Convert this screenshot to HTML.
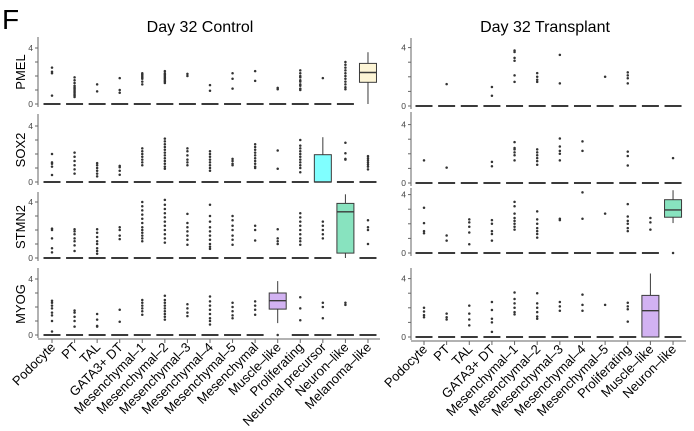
<!DOCTYPE html>
<html><head><meta charset="utf-8"><style>
html,body{margin:0;padding:0;background:#fff;}
svg{display:block;font-family:"Liberation Sans",Arial,sans-serif;}
</style></head><body>
<svg id="fig" width="694" height="431" viewBox="0 0 694 431">
<text x="2" y="29" font-size="28" fill="#000">F</text>
<text x="200" y="32" font-size="16" text-anchor="middle" fill="#000">Day 32 Control</text>
<text x="545" y="32" font-size="16" text-anchor="middle" fill="#000">Day 32 Transplant</text>
<text transform="translate(25,72) rotate(-90)" font-size="13" text-anchor="middle">PMEL</text>
<text transform="translate(25,150) rotate(-90)" font-size="13" text-anchor="middle">SOX2</text>
<text transform="translate(25,227) rotate(-90)" font-size="13" text-anchor="middle">STMN2</text>
<text transform="translate(25,304) rotate(-90)" font-size="13" text-anchor="middle">MYOG</text>
</svg>
<script>
const controlCats = ["Podocyte","PT","TAL","GATA3+ DT","Mesenchymal–1","Mesenchymal–2","Mesenchymal–3","Mesenchymal–4","Mesenchymal–5","Mesenchymal","Muscle–like","Proliferating","Neuronal precursor","Neuron–like","Melanoma–like"];
const transplantCats = ["Podocyte","PT","TAL","GATA3+ DT","Mesenchymal–1","Mesenchymal–2","Mesenchymal–3","Mesenchymal–4","Mesenchymal–5","Proliferating","Muscle–like","Neuron–like"];
const genes = ["PMEL","SOX2","STMN2","MYOG"];
const geneColors = ["#FDF5D6","#80FFFF","#88E3BF","#D2B2F2"];
const yTicks = [0,1,2,3,4];
const yTickLabels = ["0","","","","4"];

const controlPoints = [
 [[2.6,2.3,2.2,0.6],[1.9,1.7,1.5,1.3,1.2,1.1,1.0,0.9,0.8,0.7,0.6,0.5],[1.4,0.9],[1.85,1.0,0.8],[2.2,2.1,2.0,1.9,1.8,1.6,1.4],[2.35,2.2,2.1,2.0,1.9,1.8,1.7,1.6,1.5],[2.15,2.0],[1.35,0.95],[2.2,1.8,1.1],[2.35,1.65],[1.15,1.05],[2.4,2.2,2.0,1.9,1.7,1.6,1.4,1.3,1.1,1.0],[1.85],[3.0,2.8,2.6,2.4,2.2,2.0,1.8,1.6,1.4,1.2,1.05],[]],
 [[2.0,1.4,1.3,1.1,0.5],[2.1,1.8,1.5,1.2,0.9,0.6],[1.35,1.2,1.0,0.8,0.6,0.4],[1.15,1.05,0.8,0.52],[2.4,2.2,2.0,1.8,1.6,1.4,1.2],[3.1,2.9,2.7,2.5,2.3,2.1,1.9,1.7,1.5,1.3,1.1,0.95],[2.4,2.2,1.9,1.6,1.4,1.2],[2.2,2.0,1.8,1.6,1.4,1.2,1.0,0.8],[1.65,1.5,1.3,1.2],[2.7,2.5,2.3,2.1,1.9,1.7,1.5,1.3,1.1,1.0],[2.25,0.95],[3.0,2.6,2.4,2.2,2.0,1.8,1.6,1.4,1.2,1.0,0.7],[],[2.8,2.05,1.65,1.6],[1.85,1.7,1.55,1.4,1.25,1.1,0.9]],
 [[2.1,2.0,1.4,0.7,0.4],[2.05,1.9,1.7,1.4,1.2,0.9,0.5],[2.05,1.8,1.5,1.2,1.0,0.7,0.5,0.3],[2.2,2.0,1.6,1.35],[4.0,3.7,3.4,3.1,2.8,2.5,2.2,2.0,1.8,1.6,1.4,1.2],[4.15,3.8,3.5,3.2,2.9,2.6,2.3,2.0,1.7,1.4,1.1],[3.15,2.5,2.2,1.9,1.6,1.3,0.95],[3.8,3.0,2.6,2.2,1.9,1.6,1.3,1.0,0.8,0.65],[3.0,2.7,2.3,2.0,1.6,1.3,0.95],[2.3,2.0,1.25],[2.05,1.4,1.2,1.0],[3.2,2.9,2.6,2.3,2.0,1.7,1.4,1.2,0.95],[2.6,2.3,2.0,1.7,1.4],[],[2.7,2.2,2.0,1.0]],
 [[2.45,2.3,2.1,1.9,1.6,1.4,1.0,0.25],[1.75,1.6,1.3,1.0,0.6],[1.5,1.1,0.65,0.6],[1.8,0.95],[2.5,2.3,2.1,1.9,1.7,1.45],[2.8,2.5,2.3,2.1,1.9,1.7,1.5,1.3,1.1],[2.2,1.9,1.6,1.35],[2.75,2.4,2.1,1.8,1.5,1.2,1.0,0.75],[2.3,2.0,1.7,1.4,1.2],[2.4,2.1,1.8,1.45],[0],[2.7,1.9,1.05],[2.3,2.0,1.2],[2.3,2.15],[]]
];
const transplantPoints = [
 [[],[1.5],[],[1.3,0.7],[3.8,3.7,3.3,3.1,2.1,1.65],[2.25,2.0,1.8,1.65],[3.5,1.55],[],[2.0],[2.3,2.1,1.9,1.55],[],[]],
 [[1.55],[1.05],[],[1.45,1.15],[2.8,2.4,2.3,2.1,1.9,1.55],[2.3,2.1,1.9,1.7,1.5,1.25],[3.05,2.5,2.2,2.0,1.55],[2.85,2.2],[],[2.15,1.85,1.2],[],[1.7]],
 [[3.1,2.05,1.5,1.35],[1.2,0.85],[2.3,2.1,1.8,1.4,0.6],[2.25,2.0,1.5,1.3,0.85],[3.5,3.2,2.7,2.4,2.2,2.0,1.8,1.6],[2.85,2.3,2.0,1.7,1.5,1.3,1.05],[2.35,2.25],[4.15,2.35],[2.7],[3.35,2.5,2.2,2.0,1.7,1.5],[2.4,2.1,1.6],[0]],
 [[2.0,1.75,1.5,1.35],[1.6,1.35,1.2],[2.15,1.6,1.2,0.8],[2.4,1.85,1.25,1.0,0.35],[3.05,2.6,2.3,2.0,1.7,1.55],[3.0,2.3,2.0,1.7,1.4,1.25],[2.4,2.1,1.8],[2.9,2.2,1.8],[2.2],[2.35,2.1,1.9,1.05],[],[]]
];
const controlBoxes = [[0,14,1.55,2.25,2.9,0,3.7],[1,12,0,0,1.95,0,3.2],[2,13,0.35,3.3,3.9,0,4.55],[3,10,1.85,2.45,3.0,0.85,3.85]];
const transplantBoxes = [[2,11,2.45,2.95,3.65,2.05,4.3],[3,10,0,1.8,2.85,0,4.35]];

const NS="http://www.w3.org/2000/svg";
const svg=document.getElementById('fig');
function mk(tag,attrs,parent){const e=document.createElementNS(NS,tag);for(const k in attrs)e.setAttribute(k,attrs[k]);(parent||svg).appendChild(e);return e;}

const sides=[
 {cats:controlCats,pts:controlPoints,boxes:controlBoxes,axisX:38,x0:52,step:22.57,xEnd:380,zeros:[104,182,258,335],unit:14,tops:[37,114,192,268],bottomY:339,key:'control'},
 {cats:transplantCats,pts:transplantPoints,boxes:transplantBoxes,axisX:411,x0:424,step:22.64,xEnd:686,zeros:[106,183,253,337],unit:14.6,tops:[38,112,188,268],bottomY:341,key:'transplant'}
];
const ink="#3a3a3a";
sides.forEach(s=>{
 const xPos=i=>s.x0+i*s.step;
 genes.forEach((g,gi)=>{
  const yPos=v=>s.zeros[gi]-v*s.unit;
  const grp=mk('g',{});
  
  
  const ax=mk('line',{x1:s.axisX,x2:s.axisX,y1:s.tops[gi],y2:s.zeros[gi]+3,stroke:'#666','stroke-width':1},grp);
  
  
  yTicks.forEach((t,ti)=>{
   mk('line',{x1:s.axisX-3,x2:s.axisX,y1:yPos(t),y2:yPos(t),stroke:'#666','stroke-width':1},grp);
   if(yTickLabels[ti]){const tl=mk('text',{x:s.axisX-5,y:yPos(t)+3,'font-size':8.5,'text-anchor':'end',fill:'#444'},grp);tl.textContent=yTickLabels[ti];
    
    }
  });
  const boxCats=s.boxes.filter(b=>b[0]===gi).map(b=>b[1]);
  s.cats.forEach((c,ci)=>{
   const x=xPos(ci);
   if(boxCats.indexOf(ci)<0){
    const d=mk('line',{x1:x-8.5,x2:x+8.5,y1:yPos(0),y2:yPos(0),stroke:ink,'stroke-width':1.9},grp);
    
    
   }
   s.pts[gi][ci].forEach(v=>{
    const p=mk('circle',{cx:x,cy:yPos(v),r:1.25,fill:'#333'},grp);
    
    
   });
  });
  s.boxes.filter(b=>b[0]===gi).forEach(b=>{
   const x=xPos(b[1]);
   mk('line',{x1:x,x2:x,y1:yPos(b[6]),y2:yPos(b[4]),stroke:ink,'stroke-width':1},grp);
   mk('line',{x1:x,x2:x,y1:yPos(b[2]),y2:yPos(b[5]),stroke:ink,'stroke-width':1},grp);
   const r=mk('rect',{x:x-8.5,y:yPos(b[4]),width:17,height:Math.max(0.5,yPos(b[2])-yPos(b[4])),fill:geneColors[gi],stroke:ink,'stroke-width':1},grp);
   
   
   mk('line',{x1:x-8.5,x2:x+8.5,y1:yPos(b[3]),y2:yPos(b[3]),stroke:ink,'stroke-width':1.4},grp);
  });
 });
 const xa=mk('line',{x1:s.axisX,x2:s.xEnd,y1:s.bottomY,y2:s.bottomY,stroke:'#666','stroke-width':1});
 
 
 s.cats.forEach((c,ci)=>{
  const x=xPos(ci);
  mk('line',{x1:x,x2:x,y1:s.bottomY,y2:s.bottomY+4,stroke:'#666','stroke-width':1});
  const t=mk('text',{transform:`translate(${x+4},${s.bottomY+9}) rotate(-45)`,'font-size':13,'text-anchor':'end',fill:'#000'});
  t.textContent=c;
  
  
 });
});
</script>
</body></html>
